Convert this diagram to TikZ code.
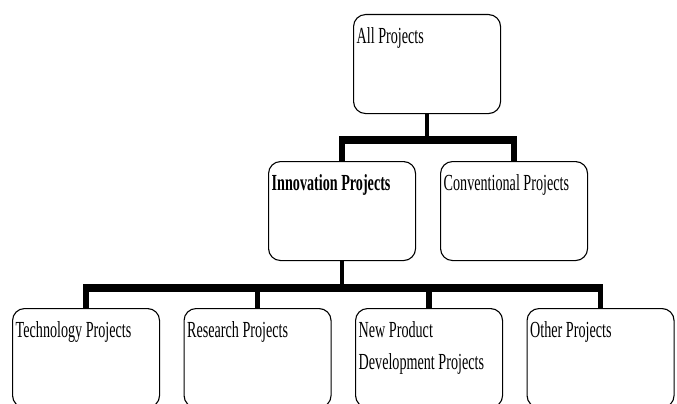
\documentclass[tikz,border=0pt]{standalone}
\usepackage{fontspec}
\setmainfont{Liberation Serif}[FakeStretch=0.615]
\usetikzlibrary{calc}
\begin{document}
\begin{tikzpicture}[x=1pt,y=-1pt,
  box/.style={draw=black, line width=1.1pt, rounded corners=12pt,
    minimum width=147pt, minimum height=99pt, inner sep=0pt,
    anchor=north west, fill=white},
  lbl/.style={anchor=base west, inner sep=0pt, align=left,
    font=\fontsize{23}{31.5}\selectfont},
  stem/.style={line width=4.5pt, line cap=butt},
  bar/.style={line width=8pt, line cap=butt},
  drop/.style={line width=5.5pt, line cap=butt}]
\useasboundingbox (0,0) rectangle (677,404);
\begin{scope}
\clip (0,0) rectangle (677,404);

% top level
\node[box] (all) at (353,14) {};
% second level
\node[box] (inn)  at (268,161) {};
\node[box] (conv) at (440,161) {};
% third level
\node[box] (tech) at (12,308) {};
\node[box] (res)  at (183.5,308) {};
\node[box] (npd)  at (355,308) {};
\node[box] (oth)  at (526.5,308) {};

% box titles (anchored on the baseline of their last line)
\node[lbl] (tAll)  at ($(all.north west)+(3.5,29.5)$) {All Projects};
\node[lbl] (tInn)  at ($(inn.north west)+(3.5,29.5)$) {\bfseries Innovation Projects};
\node[lbl] (tConv) at ($(conv.north west)+(3.5,29.5)$) {Conventional Projects};
\node[lbl] (tTech) at ($(tech.north west)+(3.5,29.5)$) {Technology Projects};
\node[lbl] (tRes)  at ($(res.north west)+(3.5,29.5)$) {Research Projects};
\node[lbl] (tNpd)  at ($(npd.north west)+(3.5,61)$) {New Product\\Development Projects};
\node[lbl] (tOth)  at ($(oth.north west)+(3.5,29.5)$) {Other Projects};

% bar levels
\coordinate (b1) at (0,140);
\coordinate (b2) at (0,288);

% all projects -> second level
\draw[stem] (all.south) -- ($(all.south |- b1)+(0,-3)$);
\draw[bar] ($(inn.north |- b1)+(-2.75,0)$) -- ($(conv.north |- b1)+(2.75,0)$);
\draw[drop] (inn.north |- b1) -- (inn.north);
\draw[drop] (conv.north |- b1) -- (conv.north);

% innovation projects -> third level
\draw[stem] (inn.south) -- ($(inn.south |- b2)+(0,-3)$);
\draw[bar] ($(tech.north |- b2)+(-2.75,0)$) -- ($(oth.north |- b2)+(2.75,0)$);
\draw[drop] (tech.north |- b2) -- (tech.north);
\draw[drop] (res.north |- b2) -- (res.north);
\draw[drop] (npd.north |- b2) -- (npd.north);
\draw[drop] (oth.north |- b2) -- (oth.north);
\end{scope}
\end{tikzpicture}
\end{document}
